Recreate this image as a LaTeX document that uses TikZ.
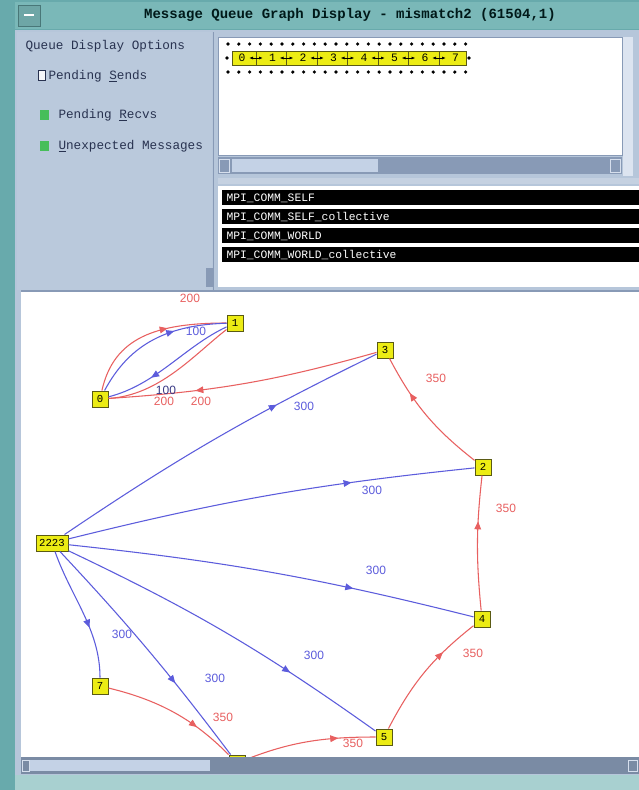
\documentclass[tikz,border=0pt]{standalone}
\usepackage{fontspec}
\setmainfont{Liberation Sans}
\setmonofont{Liberation Mono}
\usetikzlibrary{arrows.meta,decorations.markings}
\definecolor{frameteal}{RGB}{104,170,172}
\definecolor{titleteal}{RGB}{122,184,184}
\definecolor{bandteal}{RGB}{168,208,208}
\definecolor{panelblue}{RGB}{182,198,218}
\definecolor{troughblue}{RGB}{136,154,182}
\definecolor{thumbblue}{RGB}{196,210,230}
\definecolor{guitextc}{RGB}{40,50,80}
\definecolor{sendblue}{RGB}{92,92,220}
\definecolor{recvred}{RGB}{232,96,96}
\definecolor{rankfill}{RGB}{236,236,20}
\definecolor{rankedge}{RGB}{90,90,20}
\definecolor{checkgreen}{RGB}{70,190,90}
\tikzset{every picture/.style={line width=0.75pt}}

\begin{document}
\begin{tikzpicture}[x=0.75pt,y=0.75pt,yscale=-1,xscale=1,
  rank/.style={draw=rankedge,fill=rankfill,minimum width=12pt,minimum height=12pt,inner sep=1pt,font=\ttfamily\fontsize{8}{8}\selectfont},
  guitext/.style={anchor=west,inner sep=0pt,text=guitextc,font=\ttfamily\fontsize{9.5}{10}\selectfont},
  listtext/.style={anchor=west,inner sep=0pt,text=white,font=\ttfamily\fontsize{8.5}{9}\selectfont},
  sendline/.style={draw=sendblue,line width=0.8pt},
  recvline/.style={draw=recvred,line width=0.8pt},
  midtip/.style={postaction={decorate,decoration={markings,mark=at position #1 with {\arrow{Triangle[length=6pt,width=5pt]}}}}},
  sendlabel/.style={inner sep=0pt,text=sendblue,font=\fontsize{9}{9}\selectfont},
  recvlabel/.style={inner sep=0pt,text=recvred,font=\fontsize{9}{9}\selectfont}]
\useasboundingbox (0,0) rectangle (639,790);
%window frame
\fill[frameteal] (0,0) rectangle (639,790);
\fill[titleteal] (15,2) rectangle (639,29);
\draw[frameteal!70!black,fill=titleteal!90!black] (18,5) rectangle (40,26);
\draw[white,line width=1pt] (24,15) -- (34,15);
\node[inner sep=0pt,text=black!80!teal,font=\ttfamily\bfseries\fontsize{10.5}{11}\selectfont] (title) at (350,15) {Message Queue Graph Display - mismatch2 (61504,1)};
\fill[panelblue] (15,30) rectangle (639,775);
\fill[bandteal] (15,775) rectangle (639,790);
%options panel
\fill[panelblue!95!white] (17,32) rectangle (212,290);
\draw[troughblue] (213,32) -- (213,290);
\node[guitext] (optHead) at (25,46) {Queue Display Options};
\draw[guitextc,fill=white!85!panelblue] (38,70) rectangle (45,80);
\node[guitext] (optSends) at (48,76) {Pending \underline{S}ends};
\fill[checkgreen] (40,110) rectangle (49,120);
\node[guitext] (optRecvs) at (58,115) {Pending \underline{R}ecvs};
\fill[checkgreen] (40,141) rectangle (49,151);
\node[guitext] (optUnexp) at (58,146) {\underline{U}nexpected Messages};
%rank row display
\draw[troughblue,fill=white] (218,37) rectangle (622,155);
\fill[thumbblue!60!white] (623,37) rectangle (633,176);
\foreach \k in {0,...,22} {
  \fill[black] (228+\k*10.8,44) circle (1.8);
  \fill[black] (228+\k*10.8,72) circle (1.8);
}
\fill[black] (227,58) circle (1.8);
\fill[black] (469,58) circle (1.8);
\draw[rankedge,fill=rankfill] (232,51) rectangle (466,65);
\foreach \k in {0,...,7} {
  \node[inner sep=0pt,font=\ttfamily\fontsize{8.5}{9}\selectfont] (row\k) at (242+\k*30.5,58) {\k};
}
\foreach \k in {0,...,6} {
  \draw[rankedge,line width=0.5pt] (256+\k*30.5,51) -- (256+\k*30.5,65);
  \draw[{Latex[length=3pt]}-{Latex[length=3pt]},line width=0.6pt] (249+\k*30.5,58) -- (263+\k*30.5,58);
}
%horizontal scrollbar of rank row
\fill[troughblue] (218,157) rectangle (622,174);
\fill[thumbblue] (232,159) rectangle (378,172);
\draw[thumbblue!70!white] (219,159) rectangle (229,172);
\draw[thumbblue!70!white] (610,159) rectangle (620,172);
\fill[panelblue!80!white] (218,178) rectangle (639,184);
%communicator list
\fill[white] (218,186) rectangle (639,287);
\fill[black] (222,190) rectangle (639,205);
\fill[black] (222,209) rectangle (639,224);
\fill[black] (222,228) rectangle (639,243);
\fill[black] (222,247) rectangle (639,262);
\node[listtext] (commSelf) at (226,198) {MPI\_COMM\_SELF};
\node[listtext] (commSelfC) at (226,217) {MPI\_COMM\_SELF\_collective};
\node[listtext] (commWorld) at (226,236) {MPI\_COMM\_WORLD};
\node[listtext] (commWorldC) at (226,255) {MPI\_COMM\_WORLD\_collective};
\fill[troughblue] (206,268) rectangle (214,287);
%graph area
\fill[white] (21,292) rectangle (639,757);
\draw[troughblue,line width=1.5pt] (21,291) -- (639,291);
\node[rank] (n1) at (235,323) {1};
\node[rank] (n0) at (100,399) {0};
\node[rank] (n3) at (385,350) {3};
\node[rank] (n2) at (483,467) {2};
\node[rank,minimum width=24pt] (nx) at (52,543) {2223};
\node[rank] (n4) at (482,619) {4};
\node[rank] (n5) at (384,737) {5};
\node[rank] (n7) at (100,686) {7};
\node[rank] (n6) at (237,763) {6};
%edges between 0 and 1 (angles are mirrored by yscale=-1)
\draw[recvline,midtip=0.62] (n0) to[out=-80,in=180,looseness=1.2] (n1);
\draw[sendline,midtip=0.64] (n0) to[out=-68,in=178,looseness=1.1] (n1);
\draw[sendline,midtip=0.66] (n1) to[out=145,in=-20,looseness=0.9] (n0);
\draw[recvline] (n1) to[out=130,in=-5,looseness=0.9] (n0);
\draw[recvline,midtip=0.68] (n3) to[bend right=6] (n0);
%edges from the unexpected node
\draw[sendline,midtip=0.69] (nx) to[bend right=4] (n3);
\draw[sendline,midtip=0.70] (nx) to[bend right=4] (n2);
\draw[sendline,midtip=0.70] (nx) to[bend right=4] (n4);
\draw[sendline,midtip=0.71] (nx) to[bend right=5] (n5);
\draw[sendline,midtip=0.66] (nx) to[bend right=3] (n6);
\draw[sendline,midtip=0.62] (nx) to[out=75,in=-90] (n7);
%ring edges
\draw[recvline,midtip=0.70] (n7) to[out=18,in=-125] (n6);
\draw[recvline,midtip=0.72] (n6) to[out=-30,in=180] (n5);
\draw[recvline,midtip=0.70] (n5) to[bend right=12] (n4);
\draw[recvline,midtip=0.66] (n4) to[bend right=6] (n2);
\draw[recvline,midtip=0.70] (n2) to[bend right=12] (n3);
%edge labels
\node[recvlabel] (l01a) at (190,298) {200};
\node[sendlabel] (l01b) at (196,331) {100};
\node[sendlabel,text=sendblue!60!black] (l10a) at (166,390) {100};
\node[recvlabel] (l10b) at (164,401) {200};
\node[recvlabel] (l30) at (201,401) {200};
\node[sendlabel] (lx3) at (304,406) {300};
\node[sendlabel] (lx2) at (372,490) {300};
\node[sendlabel] (lx4) at (376,570) {300};
\node[sendlabel] (lx5) at (314,655) {300};
\node[sendlabel] (lx6) at (215,678) {300};
\node[sendlabel] (lx7) at (122,634) {300};
\node[recvlabel] (l23) at (436,378) {350};
\node[recvlabel] (l42) at (506,508) {350};
\node[recvlabel] (l54) at (473,653) {350};
\node[recvlabel] (l65) at (353,743) {350};
\node[recvlabel] (l76) at (223,717) {350};
%bottom scrollbar
\fill[troughblue!90!black] (21,757) rectangle (639,774);
\fill[thumbblue] (30,760) rectangle (210,771);
\draw[thumbblue!70!white] (22,760) rectangle (29,771);
\draw[thumbblue!70!white] (628,760) rectangle (637,771);
\end{tikzpicture}
\end{document}
